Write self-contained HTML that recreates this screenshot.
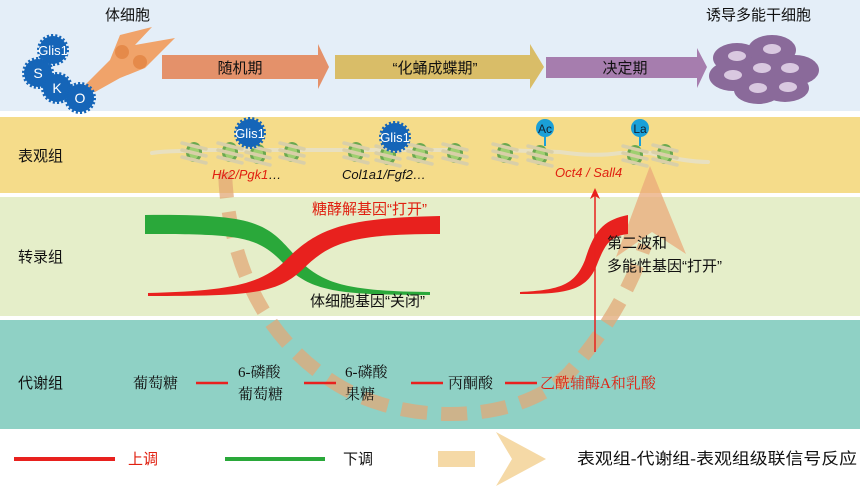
<!DOCTYPE html>
<html><head><meta charset="utf-8"><style>
body{margin:0;background:#fff;}
svg{display:block;font-family:"Liberation Sans","Noto Sans CJK SC",sans-serif;}
.t{font-size:15px;fill:#111;}
</style></head><body>
<svg width="860" height="488" viewBox="0 0 860 488" xmlns="http://www.w3.org/2000/svg">
<defs>
<g id="nuc">
<ellipse cx="0" cy="0" rx="8" ry="10" fill="#6aa84f"/>
<ellipse cx="0" cy="0" rx="5" ry="7" fill="#9fcf70"/>
<g stroke="#d9cfa8" stroke-width="3.5" stroke-linecap="round">
<line x1="-12" y1="-9" x2="12" y2="-3"/>
<line x1="-12" y1="-2" x2="12" y2="4"/>
<line x1="-12" y1="5" x2="12" y2="11"/>
</g>
</g>
<g id="star">
<circle r="14" fill="#1565b8" stroke="#1565b8" stroke-width="4" stroke-dasharray="2 2"/>
</g>
</defs>
<!-- bands -->
<rect x="0" y="0" width="860" height="111" fill="#e4eef8"/>
<rect x="0" y="117" width="860" height="76" fill="#f5dc8a"/>
<rect x="0" y="197" width="860" height="119" fill="#e5eec9"/>
<rect x="0" y="320" width="860" height="109" fill="#8fd1c5"/>

<!-- top row -->
<text x="105" y="20" class="t" font-size="16">体细胞</text>
<text x="706" y="20" class="t" font-size="16">诱导多能干细胞</text>
<path d="M82,88 L110,60 L120,35 L152,27 L135,45 L175,38 L145,68 L120,78 L95,92 Z" fill="#f0a36a"/>
<circle cx="122" cy="52" r="7" fill="#e58a4a"/><circle cx="140" cy="62" r="7" fill="#e58a4a"/>
<use href="#star" x="53" y="50"/><text x="53" y="55" text-anchor="middle" fill="#fff" font-size="13">Glis1</text>
<use href="#star" x="38" y="73"/><text x="38" y="78" text-anchor="middle" fill="#fff" font-size="14">S</text>
<use href="#star" x="57" y="88"/><text x="57" y="93" text-anchor="middle" fill="#fff" font-size="14">K</text>
<use href="#star" x="80" y="98"/><text x="80" y="103" text-anchor="middle" fill="#fff" font-size="14">O</text>
<path d="M162,55 H318 V44 L329,67 L318,89 V79 H162 Z" fill="#e4916a"/>
<text x="240" y="73" text-anchor="middle" class="t" font-size="16">随机期</text>
<path d="M335,55 H530 V44 L544,67 L530,89 V79 H335 Z" fill="#d9bd68"/>
<text x="435" y="73" text-anchor="middle" class="t" font-size="16">“化蛹成蝶期”</text>
<path d="M546,57 H697 V48 L707,67 L697,88 V78 H546 Z" fill="#a67dae"/>
<text x="625" y="73" text-anchor="middle" class="t" font-size="16">决定期</text>
<g fill="#8a6a9a">
<ellipse cx="737" cy="58" rx="24" ry="15"/><ellipse cx="772" cy="50" rx="24" ry="15"/>
<ellipse cx="795" cy="70" rx="24" ry="15"/><ellipse cx="733" cy="76" rx="24" ry="15"/>
<ellipse cx="764" cy="70" rx="22" ry="15"/><ellipse cx="758" cy="90" rx="24" ry="14"/><ellipse cx="785" cy="88" rx="24" ry="14"/>
</g>
<g fill="#d9c8e0">
<ellipse cx="737" cy="56" rx="9" ry="5"/><ellipse cx="772" cy="49" rx="9" ry="5"/><ellipse cx="790" cy="68" rx="9" ry="5"/>
<ellipse cx="733" cy="75" rx="9" ry="5"/><ellipse cx="762" cy="68" rx="9" ry="5"/><ellipse cx="758" cy="88" rx="9" ry="5"/><ellipse cx="788" cy="87" rx="9" ry="5"/>
</g>

<!-- dashed cascade arrow (behind) -->
<path d="M225,172 C228,250 255,330 330,380 C400,428 520,425 570,372 C605,332 630,290 645,245" fill="none" stroke="#e2a877" stroke-opacity="0.75" stroke-width="14" stroke-dasharray="26 14"/>
<path d="M650,166 L686,254 L652,232 L616,257 Z" fill="#eaa97a" fill-opacity="0.75"/>

<!-- epigenome -->
<text x="18" y="161" class="t">表观组</text>
<path d="M152,153 C170,150 180,152 195,150 L460,150 M500,150 L560,152 C580,155 600,156 620,153 L650,153 C670,158 690,162 708,162" stroke="#e8e0c0" stroke-width="4" fill="none" stroke-linecap="round"/>
<use href="#nuc" x="194" y="152"/><use href="#nuc" x="230" y="152"/><use href="#nuc" x="258" y="154"/><use href="#nuc" x="292" y="152"/>
<use href="#nuc" x="356" y="152"/><use href="#nuc" x="388" y="155"/><use href="#nuc" x="420" y="153"/><use href="#nuc" x="455" y="153"/>
<use href="#nuc" x="505" y="153"/><use href="#nuc" x="540" y="155"/><use href="#nuc" x="635" y="155"/><use href="#nuc" x="665" y="154"/>
<use href="#star" x="250" y="133"/><text x="250" y="138" text-anchor="middle" fill="#fff" font-size="13">Glis1</text>
<use href="#star" x="395" y="137"/><text x="395" y="142" text-anchor="middle" fill="#fff" font-size="13">Glis1</text>
<line x1="545" y1="134" x2="545" y2="146" stroke="#1aa0d8" stroke-width="2"/><circle cx="545" cy="128" r="9" fill="#1aa0d8"/><text x="545" y="133" text-anchor="middle" font-size="12" fill="#123">Ac</text>
<line x1="640" y1="134" x2="640" y2="146" stroke="#1aa0d8" stroke-width="2"/><circle cx="640" cy="128" r="9" fill="#1aa0d8"/><text x="640" y="133" text-anchor="middle" font-size="12" fill="#123">La</text>
<text x="212" y="179" font-size="13" font-style="italic" fill="#e02010">Hk2/Pgk1<tspan fill="#111">…</tspan></text>
<text x="342" y="179" font-size="13" font-style="italic" fill="#111">Col1a1/Fgf2…</text>
<text x="555" y="177" font-size="13" font-style="italic" fill="#e02010">Oct4 / Sall4</text>

<!-- transcriptome -->
<text x="18" y="262" class="t">转录组</text>
<path d="M145,215 C250,214 265,222 290,250 C318,283 340,291 430,292 L430,295 C340,295 310,292 284,264 C258,236 240,234 145,234 Z" fill="#2aa83a"/>
<path d="M148,293 C230,291 262,284 286,260 C318,228 345,218 440,216 L440,234 C352,234 330,242 302,270 C276,294 250,296 148,296 Z" fill="#e8211e"/>
<path d="M520,292 C560,290 575,285 585,260 C595,228 605,220 628,215 L628,234 C610,236 605,245 598,262 C588,290 570,294 520,294 Z" fill="#e8211e"/>
<text x="312" y="214" font-size="15" fill="#e02010">糖酵解基因“打开”</text>
<text x="310" y="306" class="t">体细胞基因“关闭”</text>
<text x="607" y="248" class="t">第二波和</text>
<text x="607" y="271" class="t">多能性基因“打开”</text>
<line x1="595" y1="352" x2="595" y2="196" stroke="#e8211e" stroke-width="1.5"/>
<path d="M595,188 L590,199 L595,196 L600,199 Z" fill="#e8211e"/>

<!-- metabolome -->
<text x="18" y="388" class="t">代谢组</text>
<g font-family="Liberation Serif,Noto Serif CJK SC,serif" font-size="15" fill="#111">
<text x="133" y="388">葡萄糖</text>
<text x="238" y="377">6-磷酸</text><text x="238" y="399">葡萄糖</text>
<text x="345" y="377">6-磷酸</text><text x="345" y="399">果糖</text>
<text x="448" y="388">丙酮酸</text>
<text x="540" y="388" fill="#e02010">乙酰辅酶A和乳酸</text>
</g>
<g stroke="#e8211e" stroke-width="2.5">
<line x1="196" y1="383" x2="228" y2="383"/><line x1="304" y1="383" x2="336" y2="383"/>
<line x1="411" y1="383" x2="443" y2="383"/><line x1="505" y1="383" x2="537" y2="383"/>
</g>

<!-- legend -->
<line x1="14" y1="459" x2="115" y2="459" stroke="#e8211e" stroke-width="4"/>
<text x="128" y="464" font-size="15" fill="#e02010">上调</text>
<line x1="225" y1="459" x2="325" y2="459" stroke="#2aa83a" stroke-width="4"/>
<text x="343" y="464" class="t">下调</text>
<rect x="438" y="451" width="37" height="16" fill="#f5d9a6"/>
<path d="M496,432 L546,459 L496,486 L512,459 Z" fill="#f5d9a6"/>
<text x="577" y="464" font-size="16" fill="#111" textLength="280" lengthAdjust="spacingAndGlyphs">表观组-代谢组-表观组级联信号反应</text>
</svg>
</body></html>
